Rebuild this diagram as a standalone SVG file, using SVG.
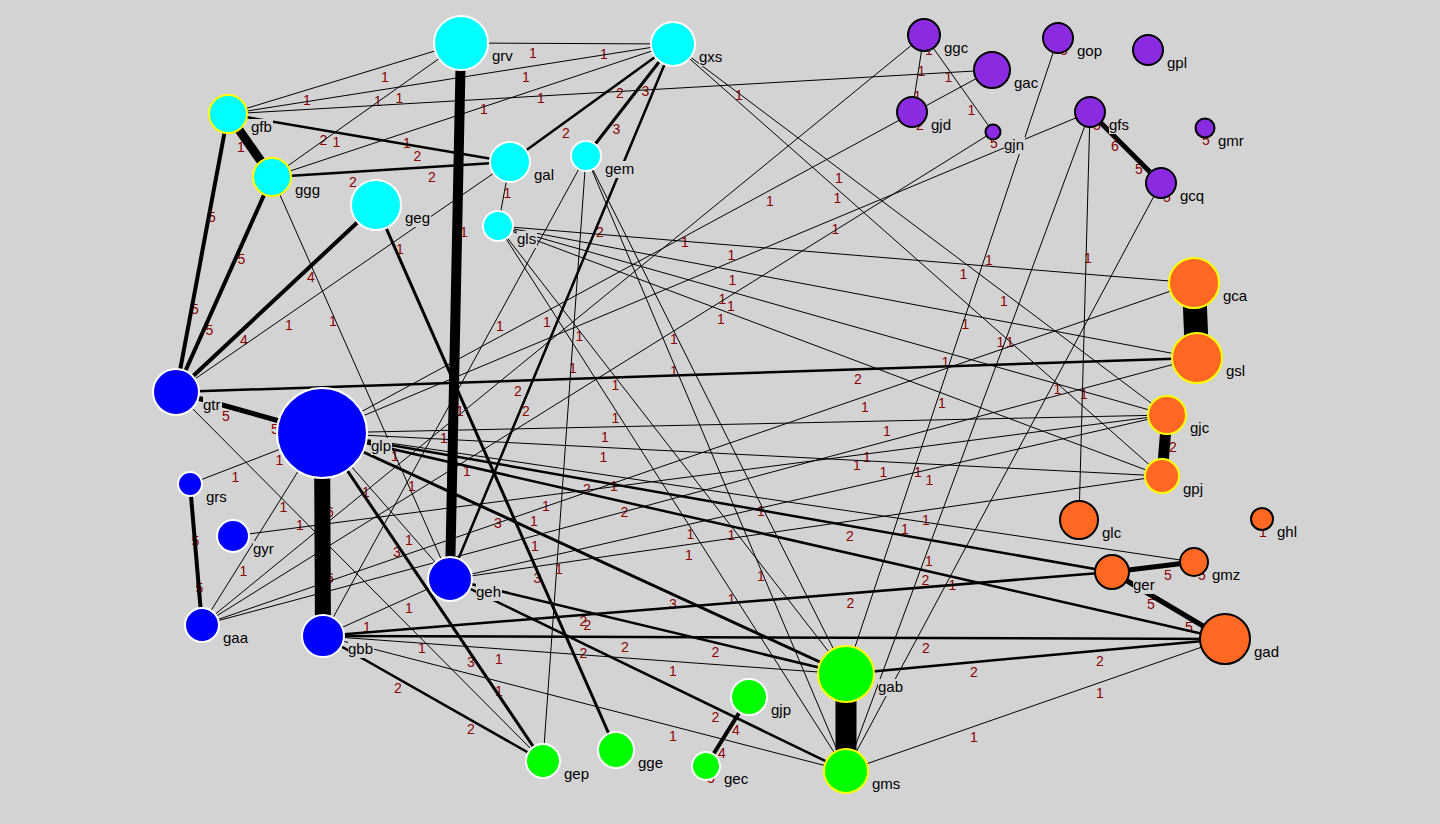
<svg xmlns="http://www.w3.org/2000/svg" width="1440" height="824" viewBox="0 0 1440 824">
<style>
.el{font-family:"Liberation Sans",Arial,sans-serif;font-size:14px;fill:#8b0000;text-anchor:middle}
.nl{font-family:"Liberation Sans",Arial,sans-serif;font-size:15px;fill:#000}
.lb{fill:#d3d3d3}
#edges line{stroke:#000;stroke-width:1}
.w2{stroke-width:2.5px !important}
.w3{stroke-width:3px !important}
.w4{stroke-width:4px !important}
.w5{stroke-width:5px !important}
.c{fill:#00ffff}.b{fill:#0000ff}.p{fill:#8a2be2}.o{fill:#ff6822}.g{fill:#00ff00}
.sw{stroke:#fff;stroke-width:2}.sy{stroke:#ffff00;stroke-width:2}.sk{stroke:#000;stroke-width:2}
</style>
<rect width="1440" height="824" fill="#d3d3d3"/>
<g id="edge-labels">
<text class="el" x="241" y="152">1</text>
<text class="el" x="212" y="222">5</text><text class="el" x="195" y="314">5</text>
<text class="el" x="241.5" y="264">5</text><text class="el" x="209.5" y="335">5</text>
<text class="el" x="311" y="282">4</text><text class="el" x="244" y="345">4</text>
<text class="el" x="464" y="237">1</text><text class="el" x="460" y="416">1</text>
<text class="el" x="330" y="517">6</text><text class="el" x="330" y="583">6</text>
<text class="el" x="226" y="421">5</text><text class="el" x="275" y="434">5</text>
<text class="el" x="195.5" y="546">5</text><text class="el" x="199.5" y="593">5</text>
<text class="el" x="1173" y="452">2</text>
<text class="el" x="1115" y="151">6</text><text class="el" x="1139" y="174">5</text>
<text class="el" x="1151" y="609">5</text><text class="el" x="1189" y="632">5</text>
<text class="el" x="1168" y="580">5</text>
<text class="el" x="736" y="735">4</text><text class="el" x="722" y="758">4</text>
<text class="el" x="645.5" y="96">3</text><text class="el" x="616.5" y="134">3</text>
<text class="el" x="620" y="98">2</text><text class="el" x="566" y="138">2</text>
<text class="el" x="600" y="237">2</text><text class="el" x="526" y="416">2</text>
<text class="el" x="533" y="58">1</text><text class="el" x="604" y="59">1</text>
<text class="el" x="378" y="106">1</text><text class="el" x="526" y="82">1</text>
<text class="el" x="407" y="148">1</text><text class="el" x="541" y="103">1</text>
<text class="el" x="307" y="105">1</text><text class="el" x="385" y="82">1</text>
<text class="el" x="336.5" y="147">1</text><text class="el" x="399.5" y="103">1</text>
<text class="el" x="323.5" y="145">2</text><text class="el" x="417.5" y="161">2</text>
<text class="el" x="353" y="187">2</text><text class="el" x="432" y="182">2</text>
<text class="el" x="484" y="114">1</text><text class="el" x="739" y="100">1</text>
<text class="el" x="333" y="326">1</text><text class="el" x="395" y="461">1</text>
<text class="el" x="289" y="330">1</text><text class="el" x="400" y="254">1</text>
<text class="el" x="537.5" y="583">3</text>
<text class="el" x="507.5" y="198">1</text>
<text class="el" x="731.5" y="260">1</text><text class="el" x="963.5" y="279">1</text>
<text class="el" x="732.5" y="285">1</text><text class="el" x="965.5" y="329">1</text>
<text class="el" x="722.5" y="304">1</text><text class="el" x="945.5" y="367">1</text>
<text class="el" x="721" y="324">1</text><text class="el" x="942" y="408">1</text>
<text class="el" x="615.5" y="390">1</text><text class="el" x="731.5" y="540">1</text>
<text class="el" x="615.5" y="423">1</text><text class="el" x="731.5" y="604">1</text>
<text class="el" x="674" y="376">1</text><text class="el" x="761" y="581">1</text>
<text class="el" x="674" y="344">1</text><text class="el" x="761" y="516">1</text>
<text class="el" x="500" y="331">1</text><text class="el" x="412" y="491">1</text>
<text class="el" x="573" y="373">1</text><text class="el" x="559" y="574">1</text>
<text class="el" x="837.5" y="203">1</text><text class="el" x="1000.5" y="347">1</text>
<text class="el" x="839" y="183">1</text><text class="el" x="1004" y="306">1</text>
<text class="el" x="921.5" y="76">1</text><text class="el" x="917.5" y="101">1</text>
<text class="el" x="948.5" y="82">1</text><text class="el" x="971.5" y="115">1</text>
<text class="el" x="685" y="247">1</text><text class="el" x="444" y="443">1</text>
<text class="el" x="770" y="206">1</text><text class="el" x="547" y="327">1</text>
<text class="el" x="731" y="311">1</text><text class="el" x="467" y="476">1</text>
<text class="el" x="835.5" y="234">1</text><text class="el" x="579.5" y="341">1</text>
<text class="el" x="1010" y="347">1</text><text class="el" x="929" y="566">1</text>
<text class="el" x="1088" y="263">1</text><text class="el" x="1084" y="399">1</text>
<text class="el" x="989" y="265">1</text><text class="el" x="918" y="477">1</text>
<text class="el" x="1057.5" y="394">1</text><text class="el" x="952.5" y="590">1</text>
<text class="el" x="518" y="396">2</text><text class="el" x="858" y="384">2</text>
<text class="el" x="300" y="530">1</text><text class="el" x="422" y="653">1</text>
<text class="el" x="243.5" y="576">1</text><text class="el" x="283.5" y="512">1</text>
<text class="el" x="235.5" y="482">1</text><text class="el" x="279.5" y="465">1</text>
<text class="el" x="546" y="511">1</text><text class="el" x="857" y="470">1</text>
<text class="el" x="534" y="526">1</text><text class="el" x="865" y="412">1</text>
<text class="el" x="535" y="551">1</text><text class="el" x="867" y="462">1</text>
<text class="el" x="498" y="528">3</text><text class="el" x="673" y="609">3</text>
<text class="el" x="587" y="494">2</text><text class="el" x="850" y="541">2</text>
<text class="el" x="614" y="491">1</text><text class="el" x="905" y="534">1</text>
<text class="el" x="624.5" y="517">2</text><text class="el" x="925.5" y="585">2</text>
<text class="el" x="603.5" y="462">1</text><text class="el" x="883.5" y="477">1</text>
<text class="el" x="605" y="442">1</text><text class="el" x="887" y="436">1</text>
<text class="el" x="366" y="497">1</text><text class="el" x="409" y="545">1</text>
<text class="el" x="397" y="557">3</text><text class="el" x="471" y="667">3</text>
<text class="el" x="583.5" y="626">2</text><text class="el" x="715.5" y="657">2</text>
<text class="el" x="583.5" y="658">2</text><text class="el" x="715.5" y="722">2</text>
<text class="el" x="689" y="560">1</text><text class="el" x="926" y="525">1</text>
<text class="el" x="690.5" y="539">1</text><text class="el" x="929.5" y="485">1</text>
<text class="el" x="367" y="632">1</text><text class="el" x="409" y="613">1</text>
<text class="el" x="587.5" y="630">2</text><text class="el" x="850.5" y="608">2</text>
<text class="el" x="625" y="652">2</text><text class="el" x="926" y="653">2</text>
<text class="el" x="499" y="664">1</text><text class="el" x="673" y="676">1</text>
<text class="el" x="499" y="696">1</text><text class="el" x="673" y="741">1</text>
<text class="el" x="398" y="693">2</text><text class="el" x="471" y="734">2</text>
<text class="el" x="974" y="677">2</text><text class="el" x="1100" y="666">2</text>
<text class="el" x="974" y="742">1</text><text class="el" x="1100" y="698">1</text>
<text class="el" x="929" y="55">1</text>
<text class="el" x="1064" y="55">5</text>
<text class="el" x="920" y="130">2</text>
<text class="el" x="994" y="148">5</text>
<text class="el" x="1097" y="130">5</text>
<text class="el" x="1206" y="145">5</text>
<text class="el" x="1167" y="202">5</text>
<text class="el" x="1202" y="580">5</text>
<text class="el" x="1263" y="537">1</text>
<text class="el" x="711" y="783">5</text>
</g>
<g id="edges">
<line x1="228" y1="114" x2="272" y2="177" style="stroke-width:9"/>
<line x1="228" y1="114" x2="176" y2="392" class="w4"/>
<line x1="272" y1="177" x2="176" y2="392" class="w4"/>
<line x1="376" y1="205" x2="176" y2="392" class="w4"/>
<line x1="461" y1="43" x2="450" y2="579" style="stroke-width:10"/>
<line x1="322" y1="433" x2="323" y2="636" style="stroke-width:16"/>
<line x1="176" y1="392" x2="322" y2="433" class="w5"/>
<line x1="190" y1="484" x2="202" y2="625" class="w4"/>
<line x1="1194" y1="283" x2="1197" y2="358" style="stroke-width:24"/>
<line x1="1167" y1="415" x2="1162" y2="476" style="stroke-width:11"/>
<line x1="846" y1="674" x2="846" y2="771" style="stroke-width:21"/>
<line x1="1090" y1="112" x2="1161" y2="183" class="w5"/>
<line x1="1112" y1="572" x2="1225" y2="639" class="w5"/>
<line x1="1112" y1="572" x2="1194" y2="562" class="w5"/>
<line x1="749" y1="697" x2="706" y2="766" class="w4"/>
<line x1="673" y1="44" x2="586" y2="156" class="w3"/>
<line x1="673" y1="44" x2="510" y2="162" class="w2"/>
<line x1="673" y1="44" x2="450" y2="579" class="w2"/>
<line x1="461" y1="43" x2="673" y2="44"/>
<line x1="228" y1="114" x2="673" y2="44"/>
<line x1="272" y1="177" x2="673" y2="44"/>
<line x1="228" y1="114" x2="461" y2="43"/>
<line x1="272" y1="177" x2="461" y2="43"/>
<line x1="228" y1="114" x2="510" y2="162" class="w2"/>
<line x1="272" y1="177" x2="510" y2="162" class="w2"/>
<line x1="228" y1="114" x2="992" y2="70"/>
<line x1="272" y1="177" x2="450" y2="579"/>
<line x1="176" y1="392" x2="510" y2="162"/>
<line x1="376" y1="205" x2="616" y2="750" class="w3"/>
<line x1="510" y1="162" x2="498" y2="226"/>
<line x1="498" y1="226" x2="1194" y2="283"/>
<line x1="498" y1="226" x2="1197" y2="358"/>
<line x1="498" y1="226" x2="1167" y2="415"/>
<line x1="498" y1="226" x2="1162" y2="476"/>
<line x1="498" y1="226" x2="846" y2="674"/>
<line x1="498" y1="226" x2="846" y2="771"/>
<line x1="586" y1="156" x2="846" y2="771"/>
<line x1="586" y1="156" x2="846" y2="674"/>
<line x1="586" y1="156" x2="323" y2="636"/>
<line x1="586" y1="156" x2="543" y2="761"/>
<line x1="673" y1="44" x2="1162" y2="476"/>
<line x1="673" y1="44" x2="1167" y2="415"/>
<line x1="924" y1="35" x2="912" y2="112"/>
<line x1="924" y1="35" x2="993" y2="132"/>
<line x1="924" y1="35" x2="202" y2="625"/>
<line x1="992" y1="70" x2="322" y2="433"/>
<line x1="993" y1="132" x2="202" y2="625"/>
<line x1="1090" y1="112" x2="322" y2="433"/>
<line x1="1090" y1="112" x2="846" y2="771"/>
<line x1="1090" y1="112" x2="1079" y2="520"/>
<line x1="1058" y1="38" x2="846" y2="674"/>
<line x1="1161" y1="183" x2="846" y2="771"/>
<line x1="176" y1="392" x2="1197" y2="358" class="w2"/>
<line x1="176" y1="392" x2="543" y2="761"/>
<line x1="202" y1="625" x2="322" y2="433"/>
<line x1="190" y1="484" x2="322" y2="433"/>
<line x1="233" y1="536" x2="1167" y2="415"/>
<line x1="202" y1="625" x2="1194" y2="283"/>
<line x1="202" y1="625" x2="1197" y2="358"/>
<line x1="322" y1="433" x2="846" y2="674" class="w3"/>
<line x1="322" y1="433" x2="1112" y2="572" class="w2"/>
<line x1="322" y1="433" x2="1194" y2="562"/>
<line x1="322" y1="433" x2="1225" y2="639" class="w2"/>
<line x1="322" y1="433" x2="1162" y2="476"/>
<line x1="322" y1="433" x2="1167" y2="415"/>
<line x1="322" y1="433" x2="450" y2="579"/>
<line x1="322" y1="433" x2="543" y2="761" class="w3"/>
<line x1="450" y1="579" x2="846" y2="674" class="w2"/>
<line x1="450" y1="579" x2="846" y2="771" class="w2"/>
<line x1="450" y1="579" x2="1162" y2="476"/>
<line x1="450" y1="579" x2="1167" y2="415"/>
<line x1="323" y1="636" x2="450" y2="579"/>
<line x1="323" y1="636" x2="1112" y2="572" class="w2"/>
<line x1="323" y1="636" x2="1225" y2="639" class="w2"/>
<line x1="323" y1="636" x2="846" y2="674"/>
<line x1="323" y1="636" x2="846" y2="771"/>
<line x1="323" y1="636" x2="543" y2="761" class="w2"/>
<line x1="846" y1="674" x2="1225" y2="639" class="w2"/>
<line x1="846" y1="771" x2="1225" y2="639"/>
</g>
<g id="nodes">
<g id="grv"><circle class="c sw" cx="461" cy="43" r="27"/><rect class="lb" x="492" y="48" width="22" height="17"/><text class="nl" x="492" y="60.5">grv</text></g>
<g id="gxs"><circle class="c sw" cx="673" cy="44" r="22"/><rect class="lb" x="699" y="49" width="24" height="17"/><text class="nl" x="699" y="61.5">gxs</text></g>
<g id="gfb"><circle class="c sy" cx="228" cy="114" r="19"/><rect class="lb" x="251" y="119" width="22" height="17"/><text class="nl" x="251" y="131.5">gfb</text></g>
<g id="ggg"><circle class="c sy" cx="272" cy="177" r="19"/><rect class="lb" x="295" y="182" width="26" height="17"/><text class="nl" x="295" y="194.5">ggg</text></g>
<g id="geg"><circle class="c sw" cx="376" cy="205" r="25"/><rect class="lb" x="405" y="210" width="26" height="17"/><text class="nl" x="405" y="222.5">geg</text></g>
<g id="gal"><circle class="c sw" cx="510" cy="162" r="20"/><rect class="lb" x="534" y="167" width="21" height="17"/><text class="nl" x="534" y="179.5">gal</text></g>
<g id="gem"><circle class="c sw" cx="586" cy="156" r="15"/><rect class="lb" x="605" y="161" width="30" height="17"/><text class="nl" x="605" y="173.5">gem</text></g>
<g id="gls"><circle class="c sw" cx="498" cy="226" r="15"/><rect class="lb" x="517" y="231" width="20" height="17"/><text class="nl" x="517" y="243.5">gls</text></g>
<g id="ggc"><circle class="p sk" cx="924" cy="35" r="16"/><rect class="lb" x="944" y="40" width="25" height="17"/><text class="nl" x="944" y="52.5">ggc</text></g>
<g id="gop"><circle class="p sk" cx="1058" cy="38" r="15"/><rect class="lb" x="1077" y="43" width="26" height="17"/><text class="nl" x="1077" y="55.5">gop</text></g>
<g id="gpl"><circle class="p sk" cx="1148" cy="50" r="15"/><rect class="lb" x="1167" y="55" width="21" height="17"/><text class="nl" x="1167" y="67.5">gpl</text></g>
<g id="gac"><circle class="p sk" cx="992" cy="70" r="18"/><rect class="lb" x="1014" y="75" width="25" height="17"/><text class="nl" x="1014" y="87.5">gac</text></g>
<g id="gjd"><circle class="p sk" cx="912" cy="112" r="15"/><rect class="lb" x="931" y="117" width="21" height="17"/><text class="nl" x="931" y="129.5">gjd</text></g>
<g id="gjn"><circle class="p sk" cx="993" cy="132" r="7.5"/><rect class="lb" x="1004" y="137" width="21" height="17"/><text class="nl" x="1004" y="149.5">gjn</text></g>
<g id="gfs"><circle class="p sk" cx="1090" cy="112" r="15"/><rect class="lb" x="1109" y="117" width="21" height="17"/><text class="nl" x="1109" y="129.5">gfs</text></g>
<g id="gmr"><circle class="p sk" cx="1205" cy="128" r="9.5"/><rect class="lb" x="1218" y="133" width="27" height="17"/><text class="nl" x="1218" y="145.5">gmr</text></g>
<g id="gcq"><circle class="p sk" cx="1161" cy="183" r="15"/><rect class="lb" x="1180" y="188" width="25" height="17"/><text class="nl" x="1180" y="200.5">gcq</text></g>
<g id="gca"><circle class="o sy" cx="1194" cy="283" r="25"/><rect class="lb" x="1223" y="288" width="25" height="17"/><text class="nl" x="1223" y="300.5">gca</text></g>
<g id="gsl"><circle class="o sy" cx="1197" cy="358" r="25"/><rect class="lb" x="1226" y="363" width="20" height="17"/><text class="nl" x="1226" y="375.5">gsl</text></g>
<g id="gjc"><circle class="o sy" cx="1167" cy="415" r="19"/><rect class="lb" x="1190" y="420" width="20" height="17"/><text class="nl" x="1190" y="432.5">gjc</text></g>
<g id="gpj"><circle class="o sy" cx="1162" cy="476" r="17"/><rect class="lb" x="1183" y="481" width="21" height="17"/><text class="nl" x="1183" y="493.5">gpj</text></g>
<g id="glc"><circle class="o sk" cx="1079" cy="520" r="19"/><rect class="lb" x="1102" y="525" width="20" height="17"/><text class="nl" x="1102" y="537.5">glc</text></g>
<g id="ghl"><circle class="o sk" cx="1262" cy="519" r="11"/><rect class="lb" x="1277" y="524" width="21" height="17"/><text class="nl" x="1277" y="536.5">ghl</text></g>
<g id="ger"><circle class="o sk" cx="1112" cy="572" r="17"/><rect class="lb" x="1133" y="577" width="23" height="17"/><text class="nl" x="1133" y="589.5">ger</text></g>
<g id="gmz"><circle class="o sk" cx="1194" cy="562" r="14"/><rect class="lb" x="1212" y="567" width="29" height="17"/><text class="nl" x="1212" y="579.5">gmz</text></g>
<g id="gad"><circle class="o sk" cx="1225" cy="639" r="25"/><rect class="lb" x="1254" y="644" width="26" height="17"/><text class="nl" x="1254" y="656.5">gad</text></g>
<g id="gtr"><circle class="b sw" cx="176" cy="392" r="23"/><rect class="lb" x="203" y="397" width="19" height="17"/><text class="nl" x="203" y="409.5">gtr</text></g>
<g id="glp"><circle class="b sw" cx="322" cy="433" r="45"/><rect class="lb" x="371" y="438" width="21" height="17"/><text class="nl" x="371" y="450.5">glp</text></g>
<g id="grs"><circle class="b sw" cx="190" cy="484" r="12"/><rect class="lb" x="206" y="489" width="22" height="17"/><text class="nl" x="206" y="501.5">grs</text></g>
<g id="gyr"><circle class="b sw" cx="233" cy="536" r="16"/><rect class="lb" x="253" y="541" width="22" height="17"/><text class="nl" x="253" y="553.5">gyr</text></g>
<g id="gaa"><circle class="b sw" cx="202" cy="625" r="17"/><rect class="lb" x="223" y="630" width="26" height="17"/><text class="nl" x="223" y="642.5">gaa</text></g>
<g id="gbb"><circle class="b sw" cx="323" cy="636" r="21"/><rect class="lb" x="348" y="641" width="26" height="17"/><text class="nl" x="348" y="653.5">gbb</text></g>
<g id="geh"><circle class="b sw" cx="450" cy="579" r="22"/><rect class="lb" x="476" y="584" width="26" height="17"/><text class="nl" x="476" y="596.5">geh</text></g>
<g id="gab"><circle class="g sy" cx="846" cy="674" r="28"/><rect class="lb" x="878" y="679" width="26" height="17"/><text class="nl" x="878" y="691.5">gab</text></g>
<g id="gms"><circle class="g sy" cx="846" cy="771" r="22"/><rect class="lb" x="872" y="776" width="29" height="17"/><text class="nl" x="872" y="788.5">gms</text></g>
<g id="gjp"><circle class="g sw" cx="749" cy="697" r="18"/><rect class="lb" x="771" y="702" width="21" height="17"/><text class="nl" x="771" y="714.5">gjp</text></g>
<g id="gge"><circle class="g sw" cx="616" cy="750" r="18"/><rect class="lb" x="638" y="755" width="26" height="17"/><text class="nl" x="638" y="767.5">gge</text></g>
<g id="gep"><circle class="g sw" cx="543" cy="761" r="17"/><rect class="lb" x="564" y="766" width="26" height="17"/><text class="nl" x="564" y="778.5">gep</text></g>
<g id="gec"><circle class="g sw" cx="706" cy="766" r="14"/><rect class="lb" x="724" y="771" width="25" height="17"/><text class="nl" x="724" y="783.5">gec</text></g>
</g>
</svg>
